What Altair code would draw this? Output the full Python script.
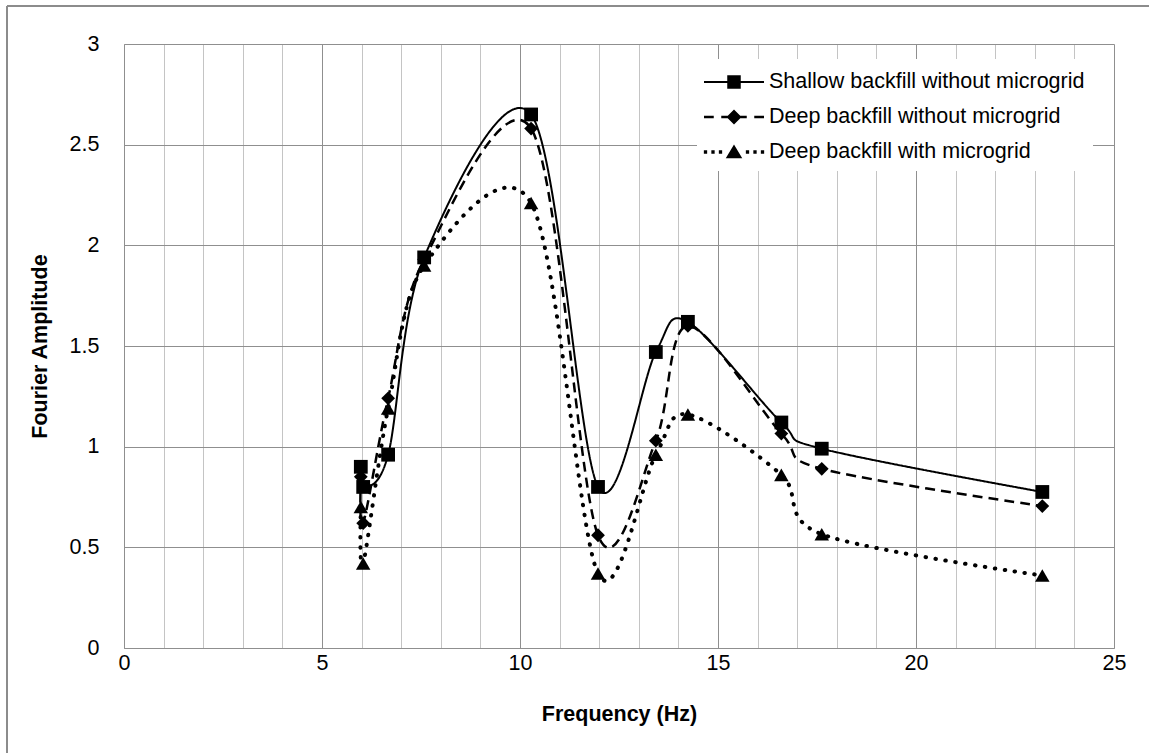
import altair as alt
import pandas as pd

# ---- data ----
freq = [5.98, 6.04, 6.67, 7.58, 10.28, 11.97, 13.43, 14.24, 16.6, 17.62, 23.19]
shallow_wo = [0.90, 0.80, 0.96, 1.94, 2.65, 0.80, 1.47, 1.62, 1.12, 0.99, 0.775]
deep_wo = [0.85, 0.62, 1.24, 1.93, 2.58, 0.56, 1.03, 1.60, 1.065, 0.89, 0.705]
deep_w = [0.70, 0.42, 1.19, 1.90, 2.21, 0.37, 0.96, 1.16, 0.86, 0.565, 0.36]

series_names = [
    "Shallow backfill without microgrid",
    "Deep backfill without microgrid",
    "Deep backfill with microgrid",
]
series_values = [shallow_wo, deep_wo, deep_w]

x_ticks = list(range(0, 26))
y_ticks = [0, 0.5, 1, 1.5, 2, 2.5, 3]

rows = []
for name, vals in zip(series_names, series_values):
    for i, (f, v) in enumerate(zip(freq, vals)):
        rows.append({"series": name, "freq": f, "amp": v, "order": i})
df = pd.DataFrame(rows)

FONT = "Liberation Sans"
FS = 21.5
MAJOR = "#8f8f8f"
MINOR = "#c4c4c4"

X = alt.X(
    "freq:Q",
    scale=alt.Scale(domain=[0, 25], nice=False, zero=False),
    axis=alt.Axis(
        values=x_ticks,
        labelExpr="datum.value % 5 === 0 ? datum.label : ''",
        labelFlush=False,
        title="Frequency (Hz)",
        grid=True,
        gridColor=alt.condition("datum.value % 5 === 0", alt.value(MAJOR), alt.value(MINOR)),
        gridWidth=1,
        ticks=False,
        tickSize=0,
        domainColor=MAJOR,
        labelFont=FONT,
        labelFontSize=FS,
        labelColor="black",
        labelPadding=4,
        titleFont=FONT,
        titleFontSize=FS,
        titleFontWeight="bold",
        titleColor="black",
        titlePadding=30,
    ),
)
Y = alt.Y(
    "amp:Q",
    scale=alt.Scale(domain=[0, 3], nice=False, zero=False),
    axis=alt.Axis(
        values=y_ticks,
        format="~g",
        labelFlush=False,
        title="Fourier Amplitude",
        grid=True,
        gridColor=MAJOR,
        gridWidth=1,
        ticks=False,
        tickSize=0,
        domainColor=MAJOR,
        labelFont=FONT,
        labelFontSize=FS,
        labelColor="black",
        labelPadding=25,
        titleFont=FONT,
        titleFontSize=FS,
        titleFontWeight="bold",
        titleColor="black",
        titlePadding=18,
    ),
)

base = alt.Chart(df)

line_styles = [
    dict(strokeDash=[1, 0], strokeWidth=2, strokeCap="butt"),
    dict(strokeDash=[10, 6], strokeWidth=2.5, strokeCap="butt"),
    dict(strokeDash=[0.5, 9.5], strokeWidth=4, strokeCap="round"),
]
shapes = ["square", "diamond", "triangle-up"]
sizes = [190, 190, 210]

layers = []
for name, st in zip(series_names, line_styles):
    layers.append(
        base.transform_filter(alt.datum.series == name)
        .mark_line(interpolate="cardinal", tension=0.05, color="black", **st)
        .encode(x=X, y=Y, order="order:Q")
    )
for name, shp, sz in zip(series_names, shapes, sizes):
    layers.append(
        base.transform_filter(alt.datum.series == name)
        .mark_point(shape=shp, size=sz, filled=True, color="black", opacity=1)
        .encode(x=X, y=Y)
    )

# legend-only layer: points pushed outside the domain and clipped away
def rect(x0, x1, h=0.07):
    return f"M{x0},{-h}H{x1}V{h}H{x0}Z"

def dot(cx, r=0.11):
    return f"M{cx - r},{-r}H{cx + r}V{r}H{cx - r}Z"

legend_paths = [
    rect(-2, 2) + "M-0.45,-0.45H0.45V0.45H-0.45Z",
    rect(-2, -1.35, 0.08) + rect(-0.85, 0.85, 0.08) + rect(1.35, 2, 0.08)
    + "M-0.5,0L0,-0.5L0.5,0L0,0.5Z",
    dot(-1.9) + dot(-1.4) + dot(-0.9) + "M0,-0.5L0.55,0.42L-0.55,0.42Z"
    + dot(0.9) + dot(1.4) + dot(1.9),
]
legend_layer = (
    base.transform_calculate(freq="datum.freq + 100")
    .mark_point(filled=True, clip=True, fill="black", opacity=1)
    .encode(
        x=X,
        y=Y,
        shape=alt.Shape(
            "series:N",
            sort=series_names,
            scale=alt.Scale(domain=series_names, range=legend_paths),
            legend=alt.Legend(
                title=None,
                orient="none",
                legendX=573,
                legendY=15,
                padding=8,
                fillColor="white",
                symbolSize=900,
                symbolOffset=14,
                symbolStrokeWidth=0,
                symbolFillColor="black",
                symbolOpacity=1,
                labelOffset=20,
                labelFont=FONT,
                labelFontSize=FS,
                labelColor="black",
                labelLimit=500,
                rowPadding=9,
            ),
        ),
    )
)

# outer chart frame (left and top edges visible)
frame_left = base.mark_rule(color="#8c8c8c", strokeWidth=1.5).encode(
    x=alt.value(-117), y=alt.value(-38), y2=alt.value(720)
)
frame_top = base.mark_rule(color="#8c8c8c", strokeWidth=1.5).encode(
    x=alt.value(-117), x2=alt.value(1100), y=alt.value(-38)
)

chart = (
    alt.layer(*layers, legend_layer, frame_left, frame_top)
    .properties(
        width=990,
        height=604,
        padding={"left": 124, "top": 44, "right": 35, "bottom": 105},
        autosize=alt.AutoSizeParams(type="none"),
        background="white",
    )
    .configure_view(stroke=None)
)

chart.save("out.html", embed_options={"renderer": "svg", "actions": False})
